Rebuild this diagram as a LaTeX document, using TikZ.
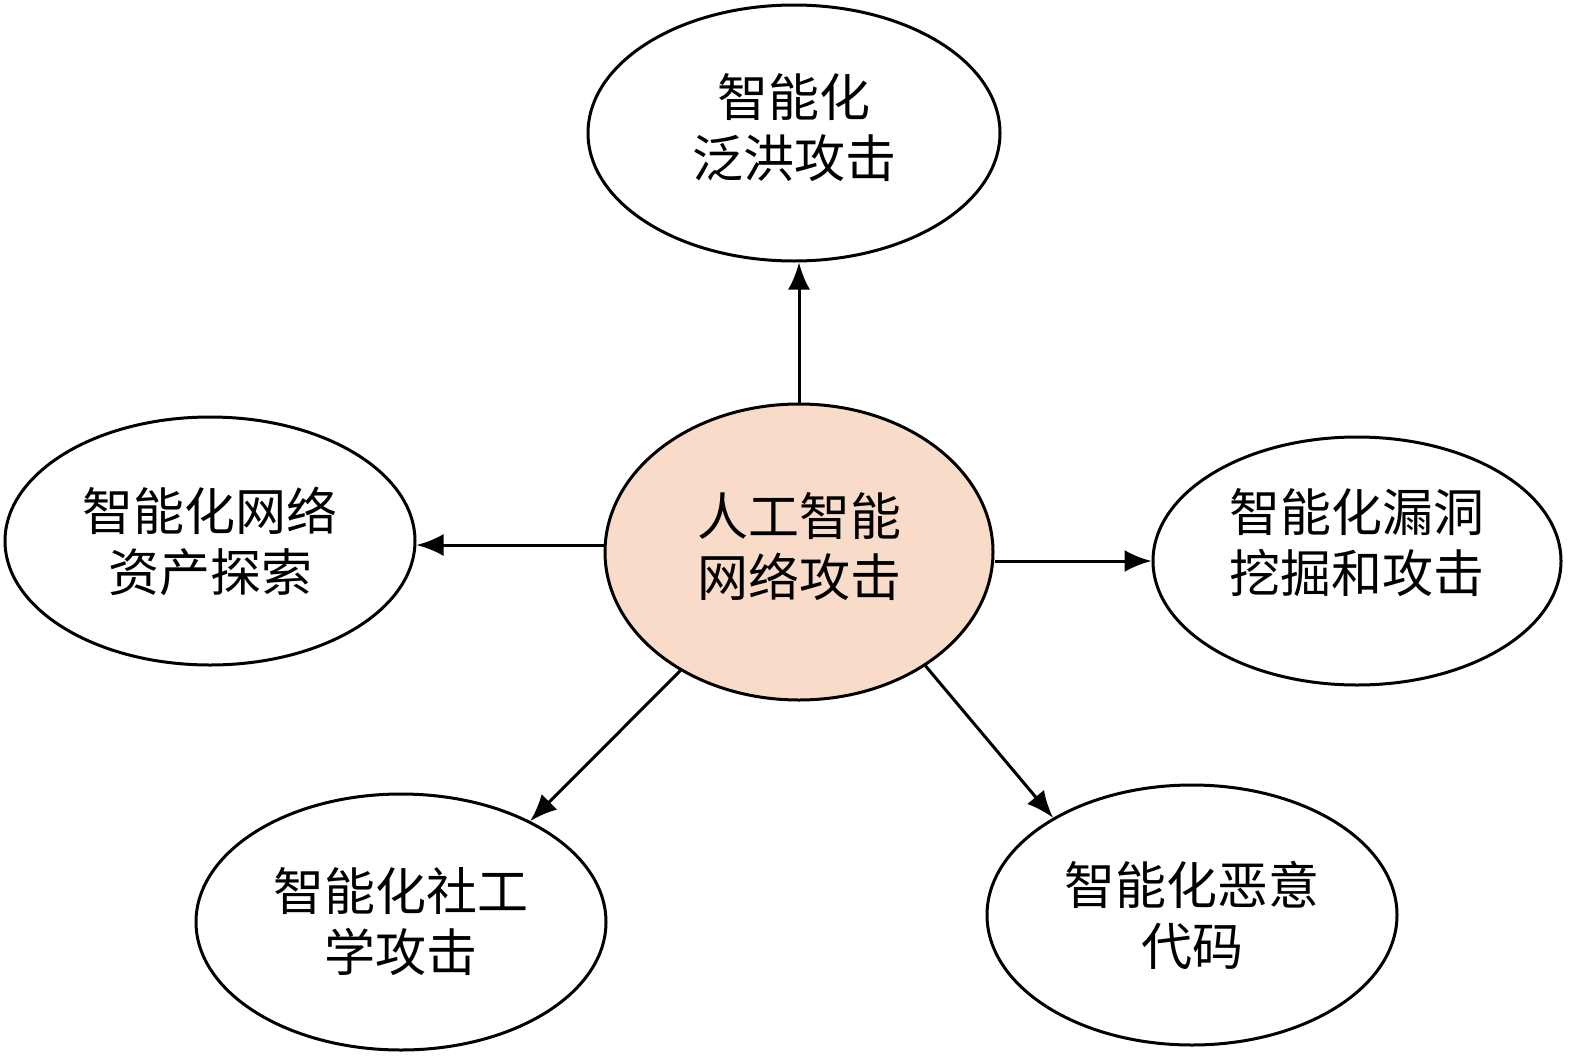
\documentclass[tikz,border=0pt]{standalone}
\usepackage{fontspec}
\newfontfamily\cjk{Noto Sans CJK SC}
\usetikzlibrary{shapes.geometric,arrows.meta}
\definecolor{aipink}{RGB}{249,219,201}
\begin{document}
\begin{tikzpicture}[x=1pt, y=-1pt, >={Latex[length=27pt,width=22pt]},
    bubble/.style={ellipse, draw, line width=3pt, inner sep=0pt, align=center,
        font=\cjk\fontsize{51}{61}\selectfont},
    link/.style={->, line width=3pt}]
\useasboundingbox (0,0) rectangle (1575,1058);

\node[bubble, fill=aipink, minimum width=388pt, minimum height=296pt, text depth=16pt] (ctr) at (799,552) {人工智能\\网络攻击};
\node[bubble, minimum width=412pt, minimum height=256pt, text depth=16pt] (top) at (794,133) {智能化\\泛洪攻击};
\node[bubble, minimum width=410pt, minimum height=248pt] (lft) at (210,541) {智能化网络\\资产探索};
\node[bubble, minimum width=408pt, minimum height=248pt, text depth=42pt] (rgt) at (1357,561) {智能化漏洞\\挖掘和攻击};
\node[bubble, minimum width=410pt, minimum height=256pt] (bl) at (401,922) {智能化社工\\学攻击};
\node[bubble, minimum width=410pt, minimum height=260pt] (br) at (1192,915) {智能化恶意\\代码};

\draw[link] (ctr.north) -- (ctr.north |- top.south);
\draw[link] (ctr.west |- 0,545) -- (lft.east |- 0,545);
\draw[link] (ctr.east |- rgt.west) -- (rgt.west);
\draw[link] (ctr.225) -- (bl.38);
\draw[link] (ctr.-42) -- (br.145);

\end{tikzpicture}
\end{document}
